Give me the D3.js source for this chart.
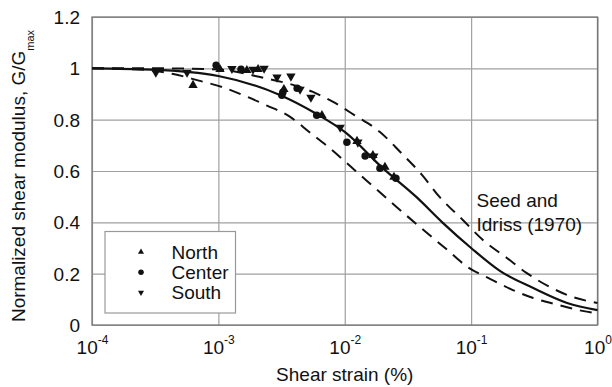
<!DOCTYPE html>
<html><head><meta charset="utf-8">
<script src="https://cdn.jsdelivr.net/npm/d3@7"></script>
<style>html,body{margin:0;padding:0;background:#fff;} svg{display:block;font-family:"Liberation Sans",Arial,Helvetica,sans-serif;}</style>
</head><body><svg id="c" width="612" height="387"></svg>
<script>
// ---- data ----
const xTicks = [1e-4, 1e-3, 1e-2, 1e-1, 1];
const xTickExps = ["-4", "-3", "-2", "-1", "0"];
const yTicks = [0, 0.2, 0.4, 0.6, 0.8, 1, 1.2];
const yTickLabels = ["0", "0.2", "0.4", "0.6", "0.8", "1", "1.2"];

// Seed and Idriss (1970) curves
const avgStrain = [1e-4, 3.0e-4, 1e-3, 3.0e-3, 6.0e-3, 1e-2, 2.0e-2, 3.7e-2, 6.0e-2, 0.1, 0.17, 0.31, 0.575, 1];
const avgG      = [1.0, 0.995, 0.97, 0.898, 0.822, 0.752, 0.611, 0.498, 0.397, 0.30, 0.21, 0.144, 0.086, 0.058];

const upperStrain = [1e-4, 3.16e-4, 1e-3, 2.14e-3, 5.6e-3, 8.1e-3, 1.2e-2, 1.9e-2, 2.75e-2, 4.1e-2, 5.6e-2, 8.6e-2, 0.124, 0.192, 0.276, 0.42, 0.638, 1];
const upperG      = [1.0, 1.0, 0.995, 0.966, 0.908, 0.869, 0.817, 0.752, 0.674, 0.584, 0.500, 0.409, 0.331, 0.261, 0.202, 0.148, 0.109, 0.086];

const lowerStrain = [1e-4, 2.5e-4, 4.4e-4, 6.9e-4, 1.07e-3, 1.58e-3, 2.4e-3, 3.7e-3, 5.3e-3, 7.4e-3, 1.2e-2, 1.82e-2, 2.57e-2, 4.2e-2, 6.5e-2, 9.3e-2, 0.141, 0.214, 0.31, 0.49, 0.76, 1];
const lowerG      = [1.0, 0.995, 0.978, 0.953, 0.927, 0.895, 0.856, 0.811, 0.750, 0.694, 0.603, 0.525, 0.46, 0.37, 0.292, 0.227, 0.18, 0.136, 0.105, 0.078, 0.055, 0.045];

// measured points
const northStrain = [6.3e-4, 1.03e-3, 1.68e-3, 2.06e-3, 3.3e-3, 6.6e-3, 1.25e-2, 1.67e-2, 2.08e-2, 2.45e-2];
const northG      = [0.934, 0.996, 0.992, 0.996, 0.918, 0.817, 0.716, 0.661, 0.615, 0.576];
const centerStrain = [9.6e-4, 1.51e-3, 3.24e-3, 3.18e-3, 4.2e-3, 6.0e-3, 1.04e-2, 1.45e-2, 1.9e-2, 2.54e-2];
const centerG      = [1.012, 0.996, 0.907, 0.895, 0.922, 0.817, 0.712, 0.658, 0.611, 0.572];
const southStrain = [3.2e-4, 5.65e-4, 1.28e-3, 1.88e-3, 2.3e-3, 2.91e-3, 3.75e-3, 4.43e-3, 5.4e-3, 9.2e-3, 1.27e-2, 1.7e-2];
const southG      = [0.984, 0.984, 0.999, 0.996, 1.0, 0.965, 0.969, 0.918, 0.887, 0.770, 0.712, 0.658];

const legendLabels = ["North", "Center", "South"];
const annotationLines = ["Seed and", "Idriss (1970)"];
const xTitle = "Shear strain (%)";
const yTitleMain = "Normalized shear modulus, G/G";
const yTitleSub = "max";

// ---- layout ----
const svg = d3.select("#c");
const L = 92, R = 597.5, T = 17, B = 325;
const x = d3.scaleLog().domain([1e-4, 1]).range([L, R]);
const y = d3.scaleLinear().domain([0, 1.2]).range([B, T]);
const FS = 19;

// grid via axes
const gx = svg.append("g").attr("transform", `translate(0,${B})`)
  .call(d3.axisBottom(x).tickValues(xTicks).tickSize(-(B - T)).tickPadding(10).tickFormat(""));
gx.select(".domain").remove();
gx.selectAll(".tick line").attr("stroke", "#a0a0a0").attr("stroke-width", 1.2);

const gy = svg.append("g").attr("transform", `translate(${L},0)`)
  .call(d3.axisLeft(y).tickValues(yTicks).tickSize(-(R - L)).tickPadding(12)
    .tickFormat((d, i) => yTickLabels[i]));
gy.select(".domain").remove();
gy.selectAll(".tick line").attr("stroke", "#a0a0a0").attr("stroke-width", 1.2);
gy.selectAll(".tick text").attr("font-size", FS).attr("fill", "#111")
  .attr("font-family", '"Liberation Sans",Arial,sans-serif').attr("dy", "0.35em");

// x tick labels with superscripts
gx.selectAll(".tick").each(function(d, i) {
  const t = d3.select(this).append("text")
    .attr("y", 29).attr("text-anchor", "middle").attr("fill", "#111")
    .attr("font-size", FS).attr("font-family", '"Liberation Sans",Arial,sans-serif');
  t.append("tspan").text("10");
  t.append("tspan").attr("font-size", 12).attr("dy", -10).text(xTickExps[i]);
});

// frame
svg.append("rect").attr("x", L).attr("y", T).attr("width", R - L).attr("height", B - T)
  .attr("fill", "none").attr("stroke", "#777").attr("stroke-width", 1.3);

// curves
const line = d3.line().x(d => x(d[0])).y(d => y(d[1])).curve(d3.curveMonotoneX);
const zip = (a, b) => a.map((v, i) => [v, b[i]]);
svg.append("path").datum(zip(upperStrain, upperG)).attr("d", line)
  .attr("fill", "none").attr("stroke", "#111").attr("stroke-width", 2).attr("stroke-dasharray", "12,8");
svg.append("path").datum(zip(lowerStrain, lowerG)).attr("d", line)
  .attr("fill", "none").attr("stroke", "#111").attr("stroke-width", 2).attr("stroke-dasharray", "12,8");
svg.append("path").datum(zip(avgStrain, avgG)).attr("d", line)
  .attr("fill", "none").attr("stroke", "#111").attr("stroke-width", 2.2);

// markers
const tri = d3.symbol().type(d3.symbolTriangle).size(38)();
const circ = d3.symbol().type(d3.symbolCircle).size(44)();
function drawPts(xs, ys, path, rot) {
  svg.append("g").selectAll("path").data(zip(xs, ys)).join("path")
    .attr("d", path)
    .attr("transform", d => `translate(${x(d[0])},${y(d[1])}) rotate(${rot})`)
    .attr("fill", "#111");
}
drawPts(northStrain, northG, tri, 0);
drawPts(centerStrain, centerG, circ, 0);
drawPts(southStrain, southG, tri, 180);

// annotation
const ann = svg.append("text").attr("font-size", FS).attr("fill", "#111");
annotationLines.forEach((s, i) => {
  ann.append("tspan").attr("x", 476.5).attr("y", 206.5 + i * 24).text(s);
});

// legend
const lg = svg.append("g");
lg.append("rect").attr("x", 105).attr("y", 231.5).attr("width", 130.5).attr("height", 81.5)
  .attr("fill", "#fff").attr("stroke", "#999").attr("stroke-width", 1.2);
const legSyms = [
  {p: d3.symbol().type(d3.symbolTriangle).size(16)(), r: 0},
  {p: d3.symbol().type(d3.symbolCircle).size(24)(), r: 0},
  {p: d3.symbol().type(d3.symbolTriangle).size(16)(), r: 180}
];
legendLabels.forEach((lab, i) => {
  const cy = 252 + i * 20.3;
  lg.append("path").attr("d", legSyms[i].p)
    .attr("transform", `translate(141,${cy}) rotate(${legSyms[i].r})`).attr("fill", "#111");
  lg.append("text").attr("x", 171.5).attr("y", cy + 6.5).attr("font-size", FS).attr("fill", "#111").text(lab);
});

// axis titles
svg.append("text").attr("x", (L + R) / 2).attr("y", 381).attr("text-anchor", "middle")
  .attr("font-size", FS).attr("fill", "#111").text(xTitle);
const yt = svg.append("text").attr("transform", "translate(25,176) rotate(-90)")
  .attr("text-anchor", "middle").attr("font-size", FS).attr("fill", "#111");
yt.append("tspan").text(yTitleMain);
yt.append("tspan").attr("font-size", 11).attr("dy", 9).text(yTitleSub);
</script></body></html>
